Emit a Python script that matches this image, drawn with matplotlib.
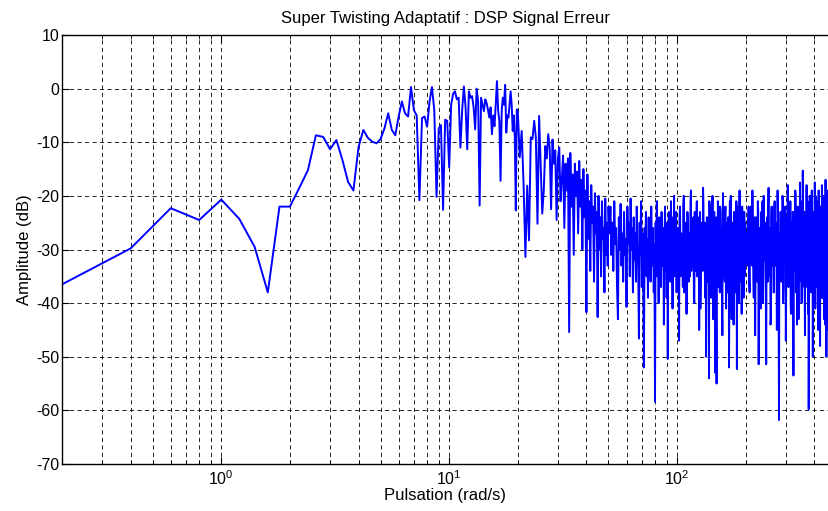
import numpy as np
import matplotlib
matplotlib.use('Agg')
import matplotlib.pyplot as plt
from matplotlib.ticker import LogLocator, NullFormatter, MultipleLocator

plt.rcParams['font.family'] = ['Liberation Sans', 'DejaVu Sans']
plt.rcParams['mathtext.default'] = 'regular'
plt.rcParams['axes.unicode_minus'] = False

# spectrum of the error signal (dB)
# low band: 0.2 .. 20 rad/s, step 0.2
amp_low = [-36.5, -29.8, -22.3, -24.5, -20.7, -24.3, -29.5, -38.0, -22.0, -22.0,
           -18.5, -15.2, -8.7, -9.0, -11.3, -9.6, -13.3, -17.4, -19.0, -10.9,
           -7.7, -9.2, -9.9, -10.2, -9.4, -7.4, -4.6, -7.7, -8.7, -5.2,
           -2.4, -4.6, -5.2, 0.3, -4.0, -5.0, -20.8, -5.5, -5.2, -7.1,
           -2.4, 0.3, -4.0, -20.2, -7.4, -6.8, -22.6, -5.8, -6.0, -14.7,
           -3.0, -1.0, -0.5, -2.0, -1.7, -11.0, -4.0, 0.4, -3.5, -11.3,
           -0.5, -1.7, -1.4, -3.5, -7.6, 0.0, -2.5, -21.8, -1.7, -3.0,
           -4.2, -2.0, -2.7, -4.0, -5.4, -3.5, -8.5, -5.0, -7.0, -3.0,
           1.4, -4.2, -6.0, -17.2, -4.0, -1.7, -3.0, 0.7, -8.2, -5.0,
           -5.4, -3.0, -0.5, -3.0, -7.9, -5.0, -9.0, -22.7, -3.9, -4.2]

# 20.4 .. 50 rad/s, step 0.4
amp_mid1 = [-12.8, -7.9, -17.8, -31.4, -18.1, -28.3, -9.1, -9.4, -6.0, -9.1,
            -25.2, -5.1, -14.4, -23.3, -19.0, -10.7, -13.0, -8.5, -11.0, -22.5,
            -9.5, -14.0, -11.5, -24.5, -13.0, -11.0, -21.0, -17.0, -12.5, -26.0,
            -14.0, -19.0, -13.0, -45.4, -12.0, -22.0, -16.0, -31.0, -14.0, -20.0,
            -15.5, -27.0, -13.5, -22.0, -17.0, -30.0, -15.0, -24.0, -19.0, -41.7,
            -16.0, -28.0, -21.0, -34.0, -18.0, -25.0, -22.0, -36.0, -19.5, -27.0,
            -23.0, -42.6, -20.0, -30.0, -24.0, -35.0, -21.0, -28.0, -26.0, -38.0,
            -20.5, -31.0, -25.0, -33.0, -22.0]

# 50.5 .. 100 rad/s, step 0.5
amp_mid2 = [-27, -22, -31, -25, -34, -21, -29, -26, -37, -43,
            -24, -30, -21.5, -33, -27, -36, -23, -31, -28, -40.7,
            -22, -29, -25, -35, -20.5, -30, -26, -38, -24, -32,
            -27, -36, -22, -29, -33, -46.6, -25, -31, -21, -37,
            -27, -34, -52, -26, -30, -23, -35, -28, -39, -24,
            -31, -27, -36, -22, -30, -33, -26, -38, -29, -58.4,
            -25, -32, -21, -35, -28, -40, -24, -31, -27, -37,
            -23, -29, -33, -26, -44, -30, -22, -34, -27, -39,
            -25, -50.4, -28, -23, -33, -26, -36, -21, -30, -27,
            -41, -24, -32, -20, -35, -26, -30, -23, -38, -28]

# 101 .. 200 rad/s, step 1
amp_high1 = [-26, -47, -22, -31, -28, -37, -20, -33, -25, -42,
             -23, -30, -27, -35, -19, -29, -32, -24, -40, -26,
             -34, -21, -31, -28, -45, -23, -36, -27, -30, -18.5,
             -33, -25, -39, -50, -24, -31, -28, -54, -22, -35,
             -27, -32, -20, -43, -26, -30, -53, -24, -55, -29,
             -21, -34, -27, -38, -23, -31, -26, -46, -19.5, -33,
             -28, -36, -22, -41, -25, -30, -27, -35, -52, -24,
             -31, -20, -37, -26, -33, -28, -44, -23, -30, -25,
             -38, -21, -52.3, -27, -32, -24, -36, -19, -29, -34,
             -26, -42, -22, -31, -28, -39, -23, -35, -25, -30]

# 101.5 .. 200.5 rad/s, step 1 (in between the points above)
amp_high1_half = [-29, -24, -35, -27, -32, -22, -38, -26, -30, -33,
                  -25, -36, -28, -21, -34, -30, -26, -39, -23, -31,
                  -28, -35, -24, -32, -27, -41, -25, -29, -34, -22,
                  -30, -37, -26, -31, -24, -36, -29, -21, -33, -27,
                  -39, -25, -30, -35, -23, -32, -28, -44, -26, -31,
                  -24, -37, -29, -22, -34, -27, -40, -25, -31, -28,
                  -35, -23, -30, -33, -26, -38, -24, -29, -36, -21,
                  -32, -27, -43, -25, -30, -34, -23, -37, -28, -31,
                  -26, -35, -22, -33, -29, -40, -24, -30, -27, -36,
                  -25, -32, -38, -23, -29, -34, -26, -31, -28, -33]

# 202 .. 470 rad/s, step 2
amp_high2 = [-27, -33, -22, -38, -25, -30, -19, -35, -28, -46,
             -24, -31, -21, -51.4, -26, -34, -23, -29, -40, -20,
             -32, -27, -51.4, -24, -36, -18.5, -30, -26, -43, -22,
             -33, -28, -38, -21, -31, -25, -45, -19, -34, -61.8,
             -27, -23, -36, -29, -20, -40, -25, -32, -22, -47,
             -26, -30, -18, -37, -24, -33, -21, -42, -28, -35,
             -23, -53.5, -27, -31, -19, -38, -25, -44, -22, -30,
             -27, -36, -17.5, -33, -24, -40, -21, -15.3, -29, -35,
             -23, -46, -26, -31, -18, -37, -24, -42, -59.8, -27,
             -20, -33, -25, -38, -19, -30, -50, -23, -35, -28,
             -17.5, -41, -25, -32, -21, -37, -27, -45, -19, -30,
             -24, -48, -22, -34, -28, -18, -39, -26, -31, -20,
             -43, -25, -35, -17, -29, -50, -23, -33, -19, -45,
             -27, -36, -22, -30, -26]

# 203 .. 469 rad/s, step 2 (in between the points above)
amp_high2_odd = [-30, -25, -35, -28, -22, -33, -27, -39, -24, -31,
                 -29, -36, -23, -32, -26, -41, -28, -21, -34, -30,
                 -25, -37, -27, -32, -23, -35, -29, -44, -24, -31,
                 -26, -38, -22, -33, -28, -30, -36, -25, -42, -27,
                 -31, -23, -34, -29, -21, -37, -26, -32, -28, -39,
                 -24, -35, -30, -22, -33, -27, -40, -25, -31, -29,
                 -36, -23, -34, -28, -20, -38, -26, -32, -30, -43,
                 -24, -35, -27, -22, -33, -29, -37, -25, -31, -28,
                 -39, -23, -34, -26, -30, -21, -36, -28, -41, -25,
                 -32, -27, -35, -22, -31, -29, -38, -24, -33, -26,
                 -30, -20, -37, -28, -34, -23, -40, -27, -31, -25,
                 -36, -22, -33, -29, -39, -24, -30, -26, -35, -21,
                 -32, -28, -44, -25, -31, -23, -37, -27, -34, -29,
                 -22, -33, -28, -31]

freq = np.concatenate([
    0.2 + 0.2 * np.arange(len(amp_low)),
    20.4 + 0.4 * np.arange(len(amp_mid1)),
    50.5 + 0.5 * np.arange(len(amp_mid2)),
    101 + 1.0 * np.arange(len(amp_high1)),
    101.5 + 1.0 * np.arange(len(amp_high1_half)),
    202 + 2.0 * np.arange(len(amp_high2)),
    203 + 2.0 * np.arange(len(amp_high2_odd)),
])
amp = np.concatenate([amp_low, amp_mid1, amp_mid2, amp_high1, amp_high1_half,
                      amp_high2, amp_high2_odd])
order = np.argsort(freq, kind='stable')
freq, amp = freq[order], amp[order]

fig = plt.figure(figsize=(8.29, 5.11), dpi=100)
ax = fig.add_axes([62 / 829, 1 - 464 / 511, 767 / 829, 429 / 511])
ax.semilogx(freq, amp, color=(0, 0, 1), lw=1.4)

ax.set_xlim(0.2, 464)
ax.set_ylim(-70, 10)
ax.yaxis.set_major_locator(MultipleLocator(10))
ax.xaxis.set_major_locator(LogLocator(base=10))
ax.xaxis.set_minor_locator(LogLocator(base=10, subs=np.arange(2, 10)))
ax.xaxis.set_minor_formatter(NullFormatter())

grid_kw = dict(color='black', lw=0.6, linestyle=(0, (5, 4)))
ax.grid(True, which='major', **grid_kw)
ax.grid(True, which='minor', axis='x', **grid_kw)

ax.spines['right'].set_visible(False)
for s in ['left', 'bottom', 'top']:
    ax.spines[s].set_linewidth(1.0)
ax.tick_params(which='both', direction='in', top=True, right=False,
               labelsize=11.5, colors='black')
ax.tick_params(axis='y', pad=2)
ax.tick_params(which='major', length=5)
ax.tick_params(which='minor', length=3)

ax.set_title('Super Twisting Adaptatif : DSP Signal Erreur', fontsize=12, pad=9)
ax.set_xlabel('Pulsation (rad/s)', fontsize=12, labelpad=0)
ax.set_ylabel('Amplitude (dB)', fontsize=12, labelpad=3)

fig.savefig('out.png', dpi=100)
